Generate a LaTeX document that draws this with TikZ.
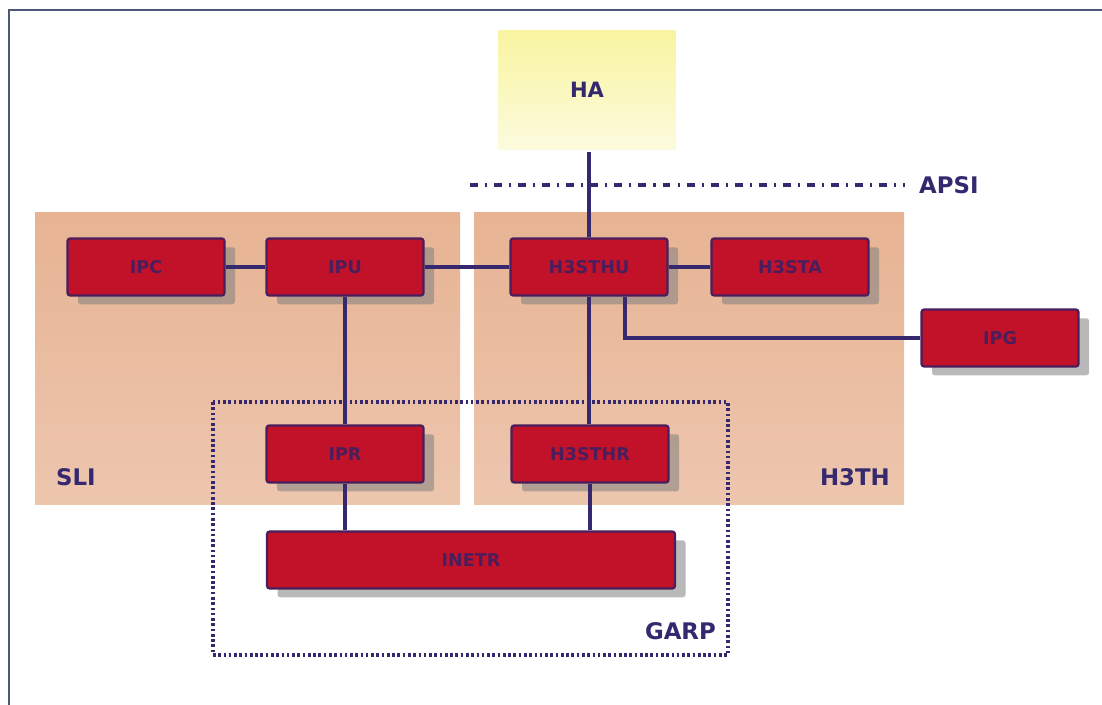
\documentclass[tikz,border=0pt]{standalone}
\usepackage{fontspec}
\setmainfont{DejaVu Sans}
\usetikzlibrary{shadows}
\definecolor{unitred}{HTML}{C11229}
\definecolor{unitline}{HTML}{4A1E5C}
\definecolor{linkblue}{HTML}{35286E}
\definecolor{peach}{HTML}{E7B393}
\definecolor{framegray}{HTML}{4C5878}
\definecolor{hostyellow}{HTML}{F8F4A0}

\begin{document}
\begin{tikzpicture}[x=0.02cm,y=-0.02cm]
  \tikzstyle{unit}=[rectangle,draw=unitline,line width=1.3pt,fill=unitred,
                    rounded corners=1.5pt,minimum width=3.14cm,minimum height=1.14cm,
                    font=\bfseries\fontsize{10}{12}\selectfont,text=unitline,
                    drop shadow={shadow xshift=6pt,shadow yshift=-5pt,fill=black!50,opacity=0.55}]
  \tikzstyle{wide unit}=[unit,minimum width=8.16cm]
  \tikzstyle{zone}=[top color=peach,bottom color=peach!75]
  \tikzstyle{zone label}=[font=\bfseries\fontsize{13}{15}\selectfont,text=linkblue]
  \tikzstyle{link}=[draw=linkblue,line width=2pt]
  \useasboundingbox (0,0) rectangle (1102,705);
  % frame
  \draw[framegray,line width=1.4pt] (9,705) -- (9,10) -- (1102,10);
  % zones
  \fill[zone] (35,213) rectangle (460,505);
  \fill[zone] (474,213) rectangle (904,505);
  \node[zone label,anchor=west] (sli) at (50,477) {SLI};
  \node[zone label,anchor=east] (h3th) at (896,477) {H3TH};
  % host
  \node[top color=hostyellow,bottom color=hostyellow!35,minimum width=3.54cm,minimum height=2.4cm,
        font=\bfseries\fontsize{12}{14}\selectfont,text=linkblue] (ha) at (587,90) {HA};
  % APSI
  \draw[linkblue,line width=2pt,dash pattern=on 4.5pt off 4pt on 1.2pt off 4pt] (470,185) -- (905,185);
  \node[zone label,anchor=west] (apsi) at (913,185) {APSI};
  % GARP
  \draw[linkblue,line width=2pt,dash pattern=on 1.5pt off 1.5pt] (213,402) rectangle (728,655);
  \node[zone label,anchor=east] (garp) at (722,631) {GARP};
  % units
  \node[unit] (ipc) at (146,267) {IPC};
  \node[unit] (ipu) at (345,267) {IPU};
  \node[unit] (h3sthu) at (589,267) {H3STHU};
  \node[unit] (h3sta) at (790,267) {H3STA};
  \node[unit] (ipg) at (1000,338) {IPG};
  \node[unit] (ipr) at (345,454) {IPR};
  \node[unit] (h3sthr) at (590,454) {H3STHR};
  \node[wide unit] (inetr) at (471,560) {INETR};
  % links
  \draw[link] ([yshift=-0.04cm]h3sthu.north |- ha.south) -- (h3sthu.north);
  \draw[link] (ipc) -- (ipu);
  \draw[link] (ipu) -- (h3sthu);
  \draw[link] (h3sthu) -- (h3sta);
  \draw[link] ([xshift=0.72cm]h3sthu.south) |- (ipg.west);
  \draw[link] (ipu) -- (ipr);
  \draw[link] (h3sthu.south) -- (h3sthu.south |- h3sthr.north);
  \draw[link] (ipr.south) -- (ipr.south |- inetr.north);
  \draw[link] (h3sthr.south) -- (h3sthr.south |- inetr.north);
\end{tikzpicture}
\end{document}
